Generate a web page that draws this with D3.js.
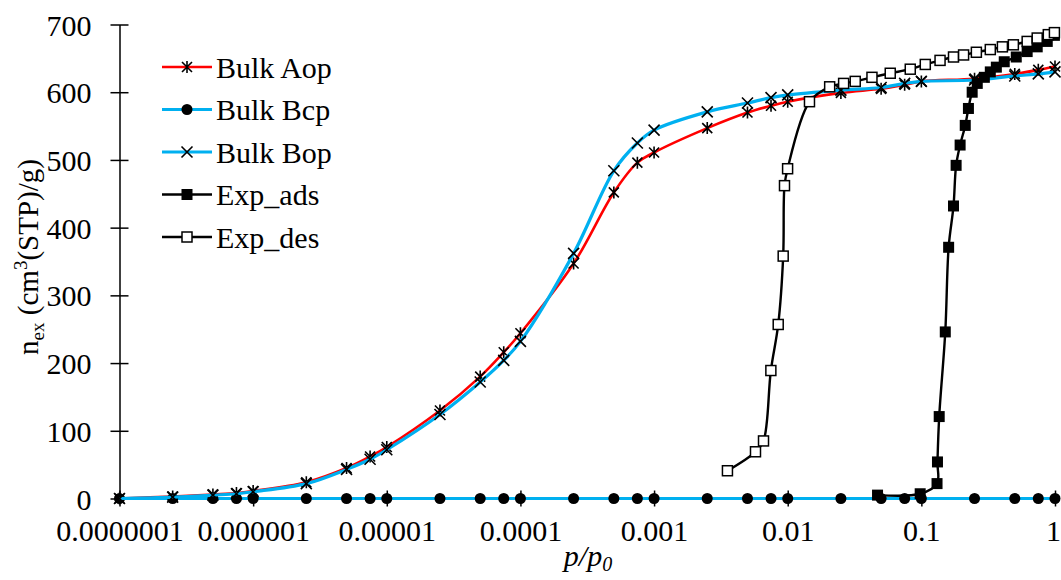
<!DOCTYPE html>
<html>
<head>
<meta charset="utf-8">
<script src="https://cdn.jsdelivr.net/npm/d3@7"></script>
<style>
  body { margin: 0; background: #fff; }
  svg text { font-family: "Liberation Serif", "Times New Roman", serif; fill: #000; }
</style>
</head>
<body>
<svg id="chart" width="1061" height="580"></svg>
<script>
// relative pressure grid shared by the three bulk series
var pBulk = [1e-7, 2.5e-7, 5e-7, 7.5e-7, 1e-6, 2.5e-6, 5e-6, 7.5e-6, 1e-5, 2.5e-5, 5e-5, 7.5e-5,
  1e-4, 2.5e-4, 5e-4, 7.5e-4, 1e-3, 2.5e-3, 5e-3, 7.5e-3, 1e-2, 2.5e-2, 5e-2, 7.5e-2,
  0.1, 0.25, 0.5, 0.75, 1];
var bulkAop = [0, 3, 6, 8, 11, 24, 45, 62, 76, 130, 180, 216,
  244, 347, 452, 496, 511, 547, 570, 580, 586, 599, 605, 611,
  616, 620, 627, 633, 638];
var bulkBcp = [0, 0, 0, 0, 0, 0, 0, 0, 0, 0, 0, 0,
  0, 0, 0, 0, 0, 0, 0, 0, 0, 0, 0, 0,
  0, 0, 0, 0, 0];
var bulkBop = [0, 2, 5, 7, 10, 22, 43, 58, 72, 124, 172, 204,
  232, 362, 484, 525, 544, 571, 584, 592, 596, 603, 607, 613,
  616, 618, 624, 627, 630];

var pAds = [0.047, 0.098, 0.131, 0.132, 0.136, 0.151, 0.160, 0.174, 0.182, 0.195, 0.213, 0.225,
  0.240, 0.262, 0.296, 0.328, 0.364, 0.417, 0.513, 0.619, 0.736, 0.875, 0.99];
var nAds = [5, 7, 22, 54, 121, 246, 371, 432, 492, 522, 551, 576,
  600, 613, 622, 630, 637, 645, 652, 660, 667, 675, 684];

var pDes = [0.00354, 0.00574, 0.00659, 0.00748, 0.00849, 0.00925, 0.00946, 0.00998, 0.01455,
  0.0206, 0.0262, 0.0320, 0.0427, 0.0585, 0.0826, 0.107, 0.138, 0.174, 0.207, 0.258,
  0.328, 0.404, 0.488, 0.619, 0.736, 0.891, 0.99];
var nDes = [41, 69, 85, 189, 257, 358, 462, 487, 586,
  608, 613, 616, 622, 628, 634, 641, 647, 652, 655, 659,
  663, 667, 670, 675, 680, 685, 688];

var xTicks = [1e-7, 1e-6, 1e-5, 1e-4, 1e-3, 1e-2, 0.1, 1];
var xTickLabels = ["0.0000001", "0.000001", "0.00001", "0.0001", "0.001", "0.01", "0.1", "1"];
var yTicks = [0, 100, 200, 300, 400, 500, 600, 700];

var seriesNames = ["Bulk Aop", "Bulk Bcp", "Bulk Bop", "Exp_ads", "Exp_des"];

var svg = d3.select('#chart');
svg.append('rect').attr('width', 1061).attr('height', 580).attr('fill', '#fff');

var x = d3.scaleLog().domain([1e-7, 1]).range([119.5, 1055]);
var y = d3.scaleLinear().domain([0, 700]).range([498.5, 24.5]);

var fontSize = 30;
var serif = '"Liberation Serif", "Times New Roman", serif';

// y axis
var yAxis = svg.append('g')
    .attr('transform', 'translate(' + x(1e-7) + ',0)')
    .attr('font-family', serif)
    .call(d3.axisLeft(y).tickValues(yTicks).tickSizeOuter(0).tickFormat(d3.format('d')));
yAxis.select('.domain').attr('stroke', '#000').attr('stroke-width', 1.5);
yAxis.selectAll('.tick line').attr('x1', -9).attr('x2', 9).attr('stroke-width', 1.5);
yAxis.selectAll('.tick text')
    .attr('x', -28)
    .attr('dy', '0.35em')
    .style('font-size', fontSize + 'px')
    .style('font-family', serif);

// x axis
var xAxis = svg.append('g')
    .attr('transform', 'translate(0,' + y(0) + ')')
    .attr('font-family', serif)
    .call(d3.axisBottom(x).tickValues(xTicks).tickSizeOuter(0)
      .tickFormat(function(d, i) { return xTickLabels[i]; }));
xAxis.select('.domain').attr('stroke', '#000').attr('stroke-width', 1.5);
xAxis.selectAll('.tick line').attr('y1', -8).attr('y2', 8).attr('stroke-width', 1.5);
xAxis.selectAll('.tick text')
    .attr('y', 42)
    .attr('dy', 0)
    .attr('x', function(d) { return d === 1 ? -2 : 0; })   // keep the last label inside the frame
    .style('font-size', fontSize + 'px')
    .style('font-family', serif);

// axis titles
var yTitle = svg.append('text')
    .attr('transform', 'translate(38,257) rotate(-90)')
    .attr('text-anchor', 'middle')
    .style('font-size', '29px');
yTitle.append('tspan').text('n');
yTitle.append('tspan').attr('dy', 6).style('font-size', '19px').text('ex');
yTitle.append('tspan').attr('dy', -6).text(' (cm');
yTitle.append('tspan').attr('dy', -11).style('font-size', '19px').text('3');
yTitle.append('tspan').attr('dy', 11).text('(STP)/g)');

var xTitle = svg.append('text')
    .attr('x', 588).attr('y', 566)
    .attr('text-anchor', 'middle')
    .style('font-size', fontSize + 'px')
    .style('font-style', 'italic');
xTitle.append('tspan').text('p/p');
xTitle.append('tspan').attr('dy', 5).style('font-size', '20px').text('0');

// markers
function drawMarker(g, type) {
  if (type === 'star') {
    g.append('path').attr('d', 'M-5,-5L5,5M-5,5L5,-5M0,-6L0,6')
      .attr('stroke', '#000').attr('stroke-width', 1.6).attr('fill', 'none');
  } else if (type === 'x') {
    g.append('path').attr('d', 'M-5.5,-5.5L5.5,5.5M-5.5,5.5L5.5,-5.5')
      .attr('stroke', '#000').attr('stroke-width', 1.6).attr('fill', 'none');
  } else if (type === 'circle') {
    g.append('circle').attr('r', 5.5).attr('fill', '#000');
  } else if (type === 'fsquare') {
    g.append('rect').attr('x', -5.5).attr('y', -5.5).attr('width', 11).attr('height', 11).attr('fill', '#000');
  } else if (type === 'osquare') {
    g.append('rect').attr('x', -5).attr('y', -5).attr('width', 10).attr('height', 10)
      .attr('fill', '#fff').attr('stroke', '#000').attr('stroke-width', 1.5);
  }
}

var series = [
  {name: seriesNames[0], px: pBulk, vals: bulkAop, color: '#ff0000', width: 2.6, marker: 'star'},
  {name: seriesNames[1], px: pBulk, vals: bulkBcp, color: '#00b0f0', width: 3.2, marker: 'circle'},
  {name: seriesNames[2], px: pBulk, vals: bulkBop, color: '#00b0f0', width: 3.2, marker: 'x'},
  {name: seriesNames[3], px: pAds, vals: nAds, color: '#000000', width: 2.4, marker: 'fsquare'},
  {name: seriesNames[4], px: pDes, vals: nDes, color: '#000000', width: 2.4, marker: 'osquare'}
];

var line = d3.line()
    .x(function(d) { return x(d[0]); })
    .y(function(d) { return y(d[1]); })
    .curve(d3.curveCatmullRom.alpha(0.5));

var plot = svg.append('g');
series.forEach(function(s) {
  var pts = s.px.map(function(p, i) { return [p, s.vals[i]]; });
  plot.append('path')
      .datum(pts)
      .attr('d', line)
      .attr('fill', 'none')
      .attr('stroke', s.color)
      .attr('stroke-width', s.width)
      .attr('stroke-linejoin', 'round');
  plot.selectAll(null)
      .data(pts)
      .enter().append('g')
      .attr('transform', function(d) { return 'translate(' + x(d[0]) + ',' + y(d[1]) + ')'; })
      .each(function() { drawMarker(d3.select(this), s.marker); });
});

// legend
var legend = svg.append('g').attr('transform', 'translate(162,67)');
series.forEach(function(s, i) {
  var row = legend.append('g').attr('transform', 'translate(0,' + (i * 42.5) + ')');
  row.append('line').attr('x1', 0).attr('x2', 50).attr('y1', 0).attr('y2', 0)
      .attr('stroke', s.color).attr('stroke-width', s.width);
  drawMarker(row.append('g').attr('transform', 'translate(25,0)'), s.marker);
  row.append('text')
      .attr('x', 54).attr('y', 0).attr('dy', '0.35em')
      .style('font-size', fontSize + 'px')
      .text(s.name);
});
</script>
</body>
</html>
